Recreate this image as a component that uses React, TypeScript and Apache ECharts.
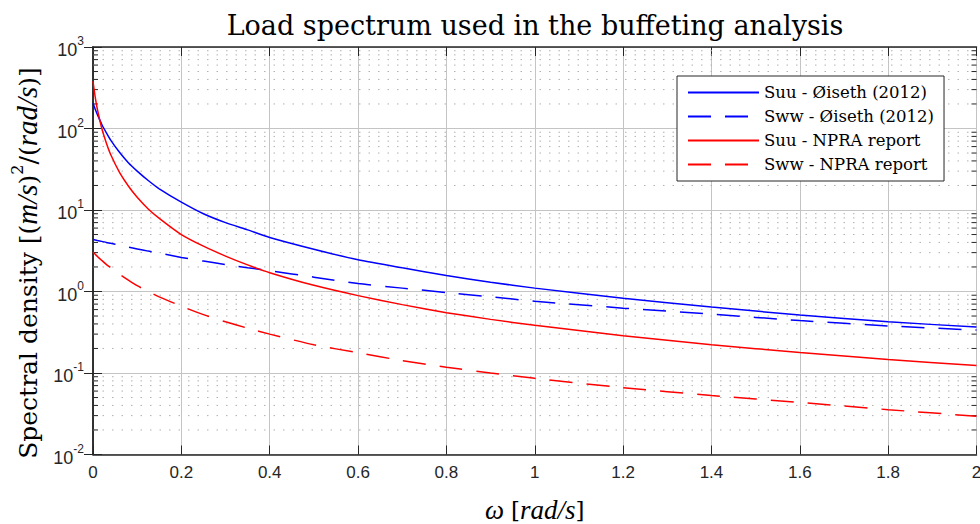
import React, { useEffect, useRef } from "react";
import * as echarts from "echarts";

const omega = [0, 0.005, 0.01, 0.02, 0.03, 0.04, 0.06, 0.08, 0.1, 0.125, 0.15, 0.2, 0.25, 0.3, 0.35, 0.4, 0.5, 0.6, 0.7, 0.8, 0.9, 1.0, 1.2, 1.4, 1.6, 1.8, 2.0];
const suuOiseth = [205, 172, 148, 112, 89, 72, 51, 38, 30, 23, 18.2, 12.5, 9.0, 7.0, 5.7, 4.6, 3.3, 2.45, 1.95, 1.57, 1.30, 1.1, 0.825, 0.645, 0.515, 0.425, 0.366];
const swwOiseth = [4.35, 4.29, 4.23, 4.12, 4.0, 3.9, 3.7, 3.5, 3.33, 3.13, 2.96, 2.62, 2.36, 2.14, 1.96, 1.8, 1.5, 1.25, 1.1, 0.97, 0.86, 0.76, 0.625, 0.527, 0.44, 0.378, 0.336];
const suuNPRA = [380, 243, 171, 100, 67, 48, 29, 19.7, 14.3, 10.3, 7.9, 5.0, 3.6, 2.72, 2.12, 1.7, 1.19, 0.89, 0.69, 0.55, 0.455, 0.385, 0.287, 0.222, 0.179, 0.146, 0.124];
const swwNPRA = [3.04, 2.86, 2.69, 2.4, 2.15, 1.96, 1.63, 1.38, 1.18, 1.0, 0.86, 0.66, 0.52, 0.425, 0.355, 0.3, 0.222, 0.177, 0.142, 0.118, 0.1, 0.086, 0.066, 0.053, 0.0435, 0.0355, 0.0295];

const seriesNames = ["Suu - Øiseth (2012)", "Sww - Øiseth (2012)", "Suu - NPRA report", "Sww - NPRA report"];
const titleText = "Load spectrum used in the buffeting analysis";
const decades = [-2, -1, 0, 1, 2];
const minorFactors = [2, 3, 4, 5, 6, 7, 8, 9];

const SERIF = "DejaVu Serif";
const ITAL = "Liberation Serif";
const SANS = "Liberation Sans";
const AX = "#262626";

export default function App() {
  const ref = useRef<HTMLDivElement>(null);
  useEffect(() => {
    if (!ref.current) return;
    const chart = echarts.init(ref.current, null, { renderer: "svg" });
    const minorVals: number[] = [];
    decades.forEach((d) => minorFactors.forEach((f) => minorVals.push(+(f * Math.pow(10, d)).toPrecision(3))));
    const mk = (arr: number[]) => omega.map((w, i) => [w, arr[i]]);
    const dashed = [23, 14];
    const lineSeries = (name: string, arr: number[], color: string, dash: boolean) => ({
      name,
      type: "line",
      data: mk(arr),
      showSymbol: false,
      symbol: "none",
      smooth: 0.2,
      z: 5,
      lineStyle: { color, width: 1.5, type: dash ? dashed : "solid" },
      itemStyle: { color },
    });
    chart.setOption({
      animation: false,
      title: {
        text: titleText,
        left: 535,
        textAlign: "center",
        top: 12,
        padding: 0,
        textStyle: { fontFamily: SERIF, fontSize: 27, fontWeight: "normal", color: "#000" },
      },
      legend: {
        orient: "vertical",
        left: 677,
        top: 76,
        padding: [8, 10, 8, 10],
        itemGap: 7,
        itemWidth: 71,
        itemHeight: 16,
        backgroundColor: "#fff",
        borderColor: AX,
        borderWidth: 1,
        borderRadius: 0,
        data: seriesNames,
        itemStyle: { opacity: 0 },
        textStyle: { fontFamily: SERIF, fontSize: 16.5, color: "#000" },
      },
      graphic: [
        {
          type: "text",
          x: 25,
          y: 263,
          rotation: Math.PI / 2,
          silent: true,
          style: {
            text: "{r|Spectral density [(}{i|m/s}{r|)}{s|2}{r|/(}{i|rad/s}{r|)]}",
            align: "center",
            verticalAlign: "middle",
            fill: "#000",
            rich: {
              r: { fontFamily: SERIF, fontSize: 25, fill: "#000", lineHeight: 32, verticalAlign: "bottom" },
              i: { fontFamily: ITAL, fontStyle: "italic", fontSize: 29, fill: "#000", lineHeight: 32, verticalAlign: "bottom" },
              s: { fontFamily: SERIF, fontSize: 16, fill: "#000", lineHeight: 22, verticalAlign: "top" },
            },
          },
        },
      ],
      grid: { left: 93, right: 3.5, top: 47, bottom: 69.5, containLabel: false, outerBoundsMode: "none" },
      xAxis: [
        {
          type: "value",
          min: 0,
          max: 2,
          interval: 0.2,
          position: "bottom",
          name: "{i|ω }{r|[}{i|rad/s}{r|]}",
          nameLocation: "middle",
          nameGap: 42,
          nameTextStyle: {
            rich: {
              i: { fontFamily: ITAL, fontStyle: "italic", fontSize: 27, color: "#000" },
              r: { fontFamily: SERIF, fontSize: 23, color: "#000" },
            },
          },
          axisLine: { show: true, lineStyle: { color: AX, width: 1.5 } },
          axisTick: { show: true, inside: true, length: 9, lineStyle: { color: AX, width: 1 } },
          axisLabel: {
            margin: 9,
            fontFamily: SANS,
            fontSize: 17,
            color: AX,
            formatter: (v: number) => String(+v.toFixed(1)),
          },
          splitLine: { show: true, lineStyle: { color: "#c4c4c4", width: 1 } },
        },
        {
          type: "value",
          min: 0,
          max: 2,
          interval: 0.2,
          position: "top",
          axisLine: { show: true, lineStyle: { color: AX, width: 1.5 } },
          axisTick: { show: true, inside: true, length: 9, lineStyle: { color: AX, width: 1 } },
          axisLabel: { show: false },
          splitLine: { show: false },
        },
      ],
      yAxis: [
        {
          type: "log",
          logBase: 10,
          min: 0.01,
          max: 1000,
          splitNumber: 5,
          position: "left",
          axisLine: { show: true, lineStyle: { color: AX, width: 1.5 } },
          axisTick: { show: true, inside: true, length: 9, lineStyle: { color: AX, width: 1 } },
          axisLabel: {
            margin: 9,
            formatter: (v: number) => `{b|10}{e|${Math.round(Math.log10(v))}}`,
            rich: {
              b: { fontFamily: SANS, fontSize: 18, color: AX, lineHeight: 24, verticalAlign: "bottom" },
              e: { fontFamily: SANS, fontSize: 12, color: AX, lineHeight: 14, verticalAlign: "top" },
            },
          },
          splitLine: { show: true, lineStyle: { color: "#c4c4c4", width: 1 } },
        },
        {
          type: "log",
          logBase: 10,
          min: 0.01,
          max: 1000,
          splitNumber: 5,
          position: "right",
          axisLine: { show: true, lineStyle: { color: AX, width: 1.5 } },
          axisTick: { show: true, inside: true, length: 9, lineStyle: { color: AX, width: 1 } },
          axisLabel: { show: false },
          splitLine: { show: false },
        },
      ],
      series: [
        {
          type: "custom",
          name: "minor",
          silent: true,
          z: 1,
          xAxisIndex: 0,
          yAxisIndex: 0,
          encode: { x: 0, y: 1 },
          data: minorVals.map((v) => [1, v]),
          renderItem: (params: any, api: any) => {
            const v = api.value(1);
            const p = api.coord([0, v]);
            const q = api.coord([2, v]);
            return {
              type: "group",
              children: [
                { type: "line", shape: { x1: p[0], y1: p[1], x2: q[0], y2: q[1] }, style: { stroke: "#b0b0b0", lineWidth: 1, lineDash: [1.5, 8] } },
                { type: "line", shape: { x1: p[0], y1: p[1], x2: p[0] + 5, y2: p[1] }, style: { stroke: AX, lineWidth: 1 } },
                { type: "line", shape: { x1: q[0] - 5, y1: q[1], x2: q[0], y2: q[1] }, style: { stroke: AX, lineWidth: 1 } },
              ],
            };
          },
        },
        lineSeries(seriesNames[0], suuOiseth, "#0000ff", false),
        lineSeries(seriesNames[1], swwOiseth, "#0000ff", true),
        lineSeries(seriesNames[2], suuNPRA, "#ff0000", false),
        lineSeries(seriesNames[3], swwNPRA, "#ff0000", true),
      ],
    });
    return () => chart.dispose();
  }, []);
  return <div ref={ref} style={{ position: "fixed", left: 0, top: 0, width: 980, height: 524, background: "#fff" }} />;
}
